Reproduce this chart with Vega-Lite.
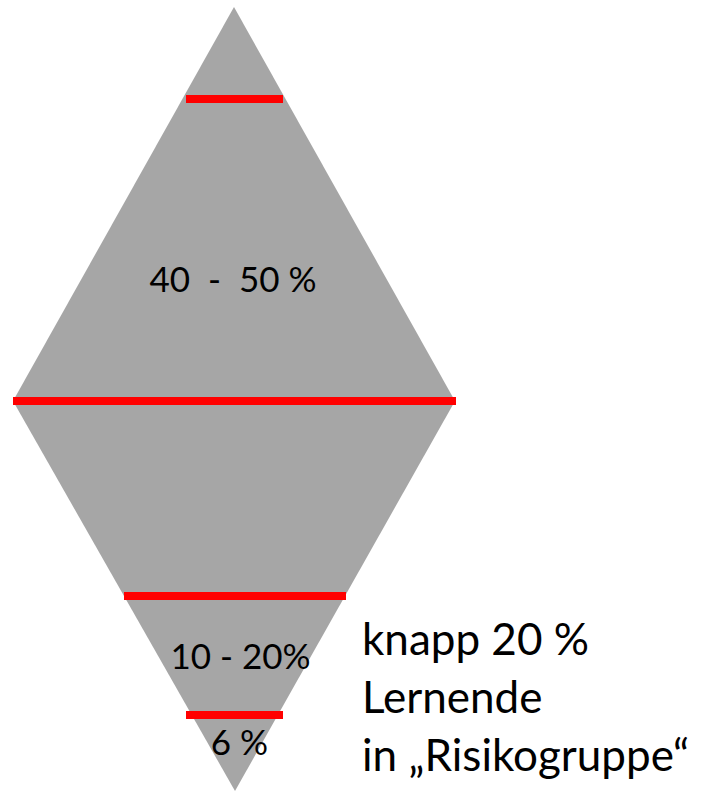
{
  "$schema": "https://vega.github.io/schema/vega-lite/v6.json",
  "autosize": {"type": "fit", "contains": "padding"},
  "width": 704,
  "height": 791,
  "padding": 0,
  "background": "white",
  "config": {"view": {"stroke": null}},
  "datasets": {
    "shape": [
      {"y": 7, "left": 234, "right": 234},
      {"y": 401, "left": 13, "right": 455},
      {"y": 791, "left": 235, "right": 235}
    ],
    "lines": [
      {"y": 99, "x1": 186, "x2": 283},
      {"y": 401, "x1": 13, "x2": 456},
      {"y": 596, "x1": 124, "x2": 346},
      {"y": 715, "x1": 186, "x2": 283}
    ],
    "inner": [
      {"label": "40 \u00a0-\u00a0 50 %", "x": 233, "y": 292},
      {"label": "10 - 20%", "x": 240.5, "y": 669},
      {"label": "6 %", "x": 239.5, "y": 755}
    ],
    "side": [
      {"label": "knapp 20 %", "x": 362, "y": 655},
      {"label": "Lernende", "x": 362, "y": 713},
      {"label": "in „Risikogruppe“", "x": 362, "y": 771}
    ]
  },
  "layer": [
    {
      "data": {"name": "shape"},
      "mark": {"type": "area", "orient": "horizontal", "color": "#A6A6A6", "opacity": 1},
      "encoding": {
        "y": {"field": "y", "type": "quantitative", "scale": {"domain": [0, 791], "reverse": true, "nice": false, "zero": false}, "axis": null},
        "x": {"field": "left", "type": "quantitative", "scale": {"domain": [0, 704], "nice": false, "zero": false}, "axis": null},
        "x2": {"field": "right"}
      }
    },
    {
      "data": {"name": "lines"},
      "mark": {"type": "rule", "color": "#FF0000", "strokeWidth": 8, "strokeCap": "butt"},
      "encoding": {
        "y": {"field": "y", "type": "quantitative"},
        "x": {"field": "x1", "type": "quantitative"},
        "x2": {"field": "x2"}
      }
    },
    {
      "data": {"name": "inner"},
      "mark": {"type": "text", "font": "Lato", "fontSize": 35, "align": "center", "baseline": "alphabetic", "color": "#000000"},
      "encoding": {
        "y": {"field": "y", "type": "quantitative"},
        "x": {"field": "x", "type": "quantitative"},
        "text": {"field": "label"}
      }
    },
    {
      "data": {"name": "side"},
      "mark": {"type": "text", "font": "Lato", "fontSize": 44, "align": "left", "baseline": "alphabetic", "color": "#000000"},
      "encoding": {
        "y": {"field": "y", "type": "quantitative"},
        "x": {"field": "x", "type": "quantitative"},
        "text": {"field": "label"}
      }
    }
  ]
}
